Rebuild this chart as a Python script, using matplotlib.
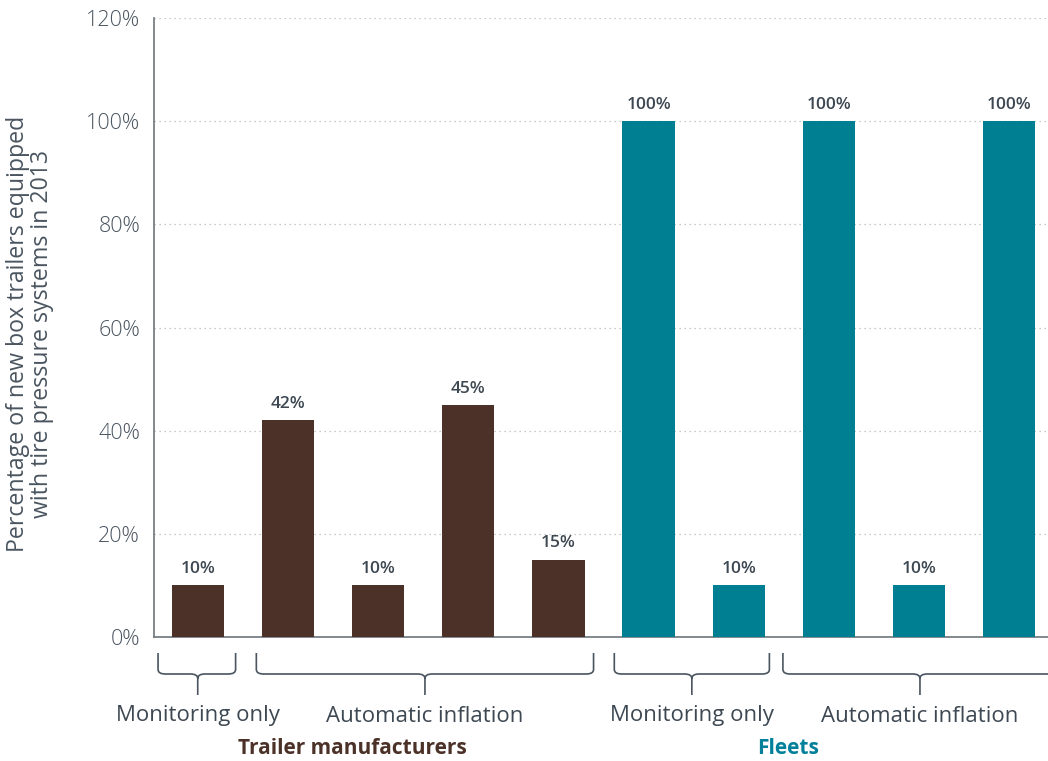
import matplotlib
matplotlib.use("Agg")
from matplotlib import pyplot as plt
from matplotlib.path import Path
from matplotlib.patches import PathPatch
from matplotlib.transforms import blended_transform_factory
import numpy as np

plt.rcParams['font.family'] = ['Open Sans', 'DejaVu Sans']

# valores por barra (fraccion)
values = [0.10, 0.42, 0.10, 0.45, 0.15, 1.00, 0.10, 1.00, 0.10, 1.00]
labels = ["10%", "42%", "10%", "45%", "15%", "100%", "10%", "100%", "10%", "100%"]
groups = ["Trailer manufacturers"] * 5 + ["Fleets"] * 5
yticks = [0, 0.2, 0.4, 0.6, 0.8, 1.0, 1.2]
ytick_labels = ["0%", "20%", "40%", "60%", "80%", "100%", "120%"]

# llaves: (inicio, fin, centro, texto)
brackets = [(-0.44, 0.42, 0.0, "Monitoring only"),
            (0.65, 4.39, 2.52, "Automatic inflation"),
            (4.62, 6.34, 5.48, "Monitoring only"),
            (6.49, 9.60, 8.01, "Automatic inflation")]
group_titles = [(1.72, "Trailer manufacturers", "#4b3128"),
                (6.55, "Fleets", "#00809a")]

brown = "#4b3128"
teal = "#007f93"
gray = "#4a5560"

fig = plt.figure(figsize=(10.48, 7.61), dpi=100)
ax = fig.add_axes([154/1048, 1-637/761, 1-154/1048, (637-18)/761])

n = np.arange(len(values))
colors = [brown if g == "Trailer manufacturers" else teal for g in groups]
bars = ax.bar(n, values, width=0.58, color=colors, zorder=3)
for b, lab in zip(bars, labels):
    ax.text(b.get_x() + b.get_width()/2, b.get_height() + 0.016, lab,
            ha="center", va="bottom", fontsize=12.5, fontweight="semibold",
            color="#3d4852")

ax.set_xlim(-0.485, 9.43)
ax.set_ylim(0, 1.2)
ax.set_yticks(yticks)
ax.set_yticklabels(ytick_labels, fontsize=15.5, color=gray, fontweight="light")
ax.set_xticks([])
ax.tick_params(axis="y", length=0, pad=10)
for y in yticks[1:]:
    ax.axhline(y, color="#b5b9bd", linestyle=(0, (1, 3)), linewidth=0.9, zorder=1)
for s in ["top", "right"]:
    ax.spines[s].set_visible(False)
ax.spines["left"].set_color("#6c757d")
ax.spines["bottom"].set_color("#6c757d")
ax.spines["left"].set_linewidth(1.2)
ax.spines["bottom"].set_linewidth(1.2)

ax.set_ylabel("Percentage of new box trailers equipped\nwith tire pressure systems in 2013",
              fontsize=16.7, color=gray, linespacing=1.0, va="center")
ax.yaxis.set_label_coords(-0.139, 0.49)

# llaves debajo del eje
tr = blended_transform_factory(ax.transData, fig.transFigure)
def fy(py):
    return 1 - py/761
y_top, y_bot, y_tip = fy(653), fy(674), fy(695)
r = 0.006
d = 0.08
for x0, x1, xc, txt in brackets:
    verts = [(x0, y_top), (x0, y_bot + r), (x0, y_bot), (x0 + d, y_bot),
             (xc - d, y_bot), (xc, y_bot), (xc, y_bot - r), (xc, y_tip),
             (xc, y_bot - r), (xc, y_bot), (xc + d, y_bot),
             (x1 - d, y_bot), (x1, y_bot), (x1, y_bot + r), (x1, y_top)]
    codes = [Path.MOVETO, Path.LINETO, Path.CURVE3, Path.CURVE3,
             Path.LINETO, Path.CURVE3, Path.CURVE3, Path.LINETO,
             Path.MOVETO, Path.CURVE3, Path.CURVE3,
             Path.LINETO, Path.CURVE3, Path.CURVE3, Path.LINETO]
    patch = PathPatch(Path(verts, codes), transform=tr, fill=False,
                      edgecolor="#4a5560", linewidth=1.2, clip_on=False)
    fig.add_artist(patch)
    fig.text(xc, fy(716), txt, transform=tr, ha="center", va="center",
             fontsize=16, color="#3d4852", fontweight="medium")

for xc, txt, col in group_titles:
    fig.text(xc, fy(749), txt, transform=tr, ha="center", va="center",
             fontsize=15, color=col, fontweight="bold")

fig.savefig("out.png", dpi=100)
